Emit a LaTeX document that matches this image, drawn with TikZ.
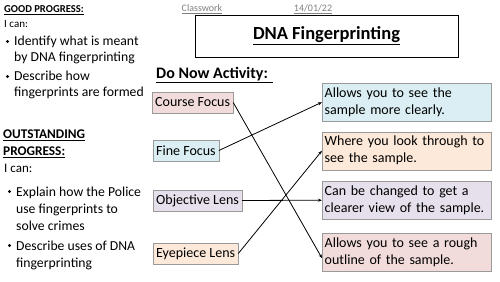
\documentclass[tikz,border=0pt]{standalone}
\usepackage{fontspec}
\setmainfont{Carlito}
\usetikzlibrary{arrows.meta, positioning}
\definecolor{pinkbg}{HTML}{F2DCDB}
\definecolor{bluebg}{HTML}{DAEEF3}
\definecolor{lilacbg}{HTML}{E5E0EC}
\definecolor{peachbg}{HTML}{FDE9D9}
\definecolor{boxline}{HTML}{9A9A9A}

\begin{document}
\begin{tikzpicture}[x=1pt, y=-1pt,
    part/.style={draw=boxline, fill=#1, inner sep=3pt, minimum height=21pt, font=\fontsize{14}{15}\selectfont, anchor=west},
    use/.style={draw=boxline, fill=#1, minimum width=169pt, minimum height=38pt, text width=164pt, align=left, inner sep=2.5pt, font=\fontsize{14}{17}\selectfont, anchor=north west},
    head/.style={font=\bfseries\fontsize{#1}{#1}\selectfont, anchor=west, inner sep=0pt},
    plain/.style={font=\fontsize{#1}{#1}\selectfont, anchor=west, inner sep=0pt},
    item/.style={font=\fontsize{13.7}{#1}\selectfont, align=left, anchor=north west, inner sep=0pt},
    dot/.style={circle, fill, inner sep=0pt, minimum size=3.2pt},
    link/.style={-{Stealth[length=4pt, width=3pt]}, thick},
]
\useasboundingbox (0,0) rectangle (500,281);

% Success criteria
\node[head=10.6] (good) at (4,10) {\underline{GOOD PROGRESS:}};
\node[plain=11] (can1) at (4,24) {I can:};
\node[item=16] (g1) at (14,36) {Identify what is meant\\by DNA fingerprinting};
\node[item=16] (g2) at (14,71) {Describe how\\fingerprints are formed};
\node[dot] (b1) at (7.5,41.5) {};
\node[dot] (b2) at (7.5,76.5) {};

\node[head=13.3, align=left, font=\bfseries\fontsize{13.3}{17}\selectfont] (outst) at (3,143.5) {\underline{OUTSTANDING}\\\underline{PROGRESS:}};
\node[plain=13] (can2) at (4,168) {I can:};
\node[item=17] (o1) at (16,187) {Explain how the Police\\use fingerprints to\\solve crimes};
\node[item=17] (o2) at (16,241) {Describe uses of DNA\\fingerprinting};
\node[dot] (b3) at (9.5,191.5) {};
\node[dot] (b4) at (9.5,245.5) {};

% Header
\node[plain=10, text=gray, anchor=center] (cw) at (202,9) {\underline{Classwork}};
\node[plain=10, text=gray, anchor=center] (date) at (313,9) {\underline{14/01/22}};
\node[draw, thick, minimum width=263pt, minimum height=42pt, font=\bfseries\fontsize{18.5}{18.5}\selectfont] (title) at (326.5,36) {\underline{DNA Fingerprinting}};
\node[head=16] (donow) at (156,75) {\underline{Do Now Activity: }};

% Microscope parts
\node[part=pinkbg] (course) at (152,102.5) {Course Focus};
\node[part=bluebg] (fine) at (153,150.5) {Fine Focus};
\node[part=lilacbg] (objective) at (153,200.5) {Objective Lens};
\node[part=peachbg] (eyepiece) at (153,253.5) {Eyepiece Lens};

% Descriptions
\node[use=bluebg] (clear) at (322,83) {Allows you to see the\\sample more clearly.};
\node[use=peachbg] (look) at (322,131.5) {Where you look through to\\see the sample.};
\node[use=lilacbg] (change) at (322,181) {Can be changed to get a\\clearer view of the sample.};
\node[use=pinkbg] (rough) at (322,233) {Allows you to see a rough\\outline of the sample.};

% Matching
\draw[link] (course.east) -- ([yshift=-6pt]rough.west);
\draw[link] (fine.east) -- (clear.west);
\draw[link] (objective.east) -- (change.west);
\draw[link] (eyepiece.east) -- (look.west);

\end{tikzpicture}
\end{document}
